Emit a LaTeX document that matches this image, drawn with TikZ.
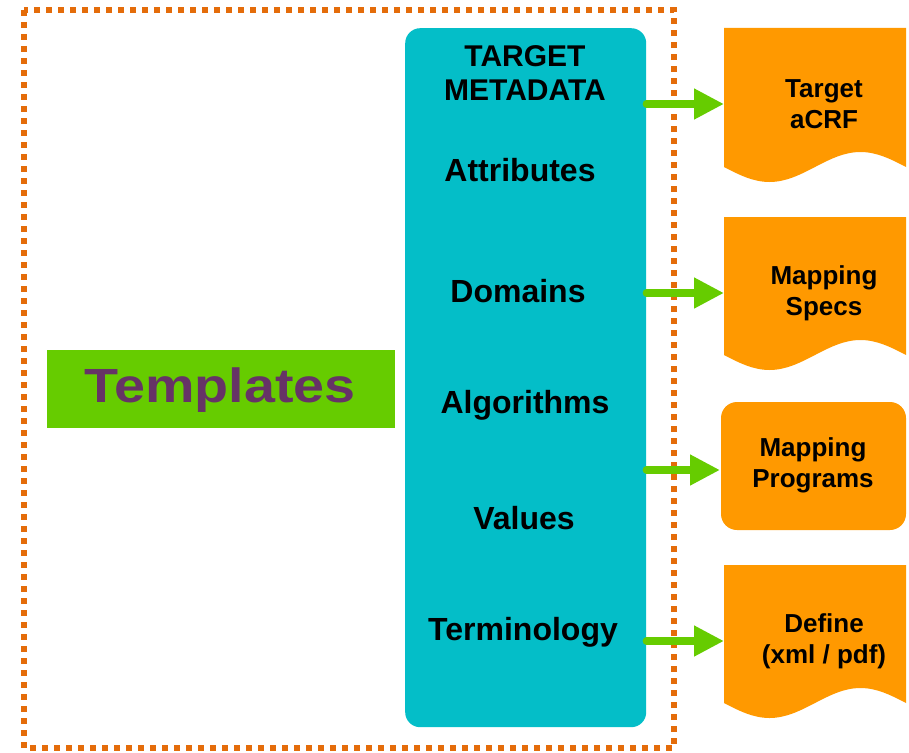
\documentclass[tikz,border=0pt]{standalone}
\usepackage{fontspec}
\usepackage{graphicx}
\setmainfont{Liberation Sans}
\usetikzlibrary{arrows.meta}
\definecolor{frameorange}{HTML}{E46C0A}
\definecolor{teal}{HTML}{04BEC8}
\definecolor{docorange}{HTML}{FF9900}
\definecolor{leaf}{HTML}{66CC00}
\definecolor{plum}{HTML}{663366}
\tikzset{
  framedots/.style={draw=frameorange, line width=6pt, dash pattern=on 6pt off 6pt},
  metabox/.style={fill=teal, draw=none, rounded corners=15pt, anchor=north west, inner sep=0pt},
  metalabel/.style={font=\bfseries\fontsize{32}{34}\selectfont, text=black, align=center, inner sep=0pt},
  doclabel/.style={font=\bfseries\fontsize{26}{31}\selectfont, text=black, align=center, inner sep=0pt},
  docfill/.style={fill=docorange, draw=none},
  greenarrow/.style={draw=leaf, line width=7.5pt, line cap=round, -{Triangle[length=30pt,width=29pt]}},
}
\begin{document}
\begin{tikzpicture}[x=1pt,y=-1pt]
\useasboundingbox (0,0) rectangle (909,752);
% dotted frame
\draw[framedots] (24,10) rectangle (674,748);
% templates box
\node[fill=leaf, minimum width=348pt, minimum height=78pt, inner sep=0pt, anchor=north west] (tplbox) at (47,350) {};
\node[font=\bfseries\fontsize{48}{56}\selectfont, text=plum, inner sep=0pt] (tpl) at (220,390) {\scalebox{1.16}[1]{Templates}};
% metadata box
\node[metabox, minimum width=241pt, minimum height=699pt] (meta) at (405,28) {};
\node[metalabel] (target) at (525,73) {\fontsize{30}{34}\selectfont TARGET\\\fontsize{30}{34}\selectfont METADATA};
\node[metalabel] (attr) at (520,170) {Attributes};
\node[metalabel] (dom) at (518,291) {Domains};
\node[metalabel] (algo) at (525,405) {Algorithms};
\node[metalabel] (vals) at (524,518) {Values};
\node[metalabel] (term) at (523,632) {Terminology};
% documents
\fill[docfill] (724,167) -- (724,28) -- (906,28) -- (906,167) sin (860.5,152) cos (815,167) sin (769.5,182) cos (724,167) -- cycle;
\fill[docfill] (724,355) -- (724,217) -- (906,217) -- (906,355) sin (860.5,340) cos (815,355) sin (769.5,370) cos (724,355) -- cycle;
\fill[docfill] (724,703) -- (724,565) -- (906,565) -- (906,703) sin (860.5,688) cos (815,703) sin (769.5,718) cos (724,703) -- cycle;
\fill[docfill, rounded corners=16pt] (721,402) rectangle (906,530);
\node[doclabel] (acrf) at (824,104) {Target\\aCRF};
\node[doclabel] (specs) at (824,293.5) {Mapping\\Specs};
\node[doclabel] (progs) at (813,465) {Mapping\\Programs};
\node[doclabel] (define) at (824,641) {Define\\(xml / pdf)};
\coordinate (acrfIn) at (724,104);
\coordinate (specsIn) at (724,293);
\coordinate (progsIn) at (720,470);
\coordinate (defineIn) at (724,641);
% arrows
\draw[greenarrow] (meta.east |- acrfIn) -- (acrfIn);
\draw[greenarrow] (meta.east |- specsIn) -- (specsIn);
\draw[greenarrow] (meta.east |- progsIn) -- (progsIn);
\draw[greenarrow] (meta.east |- defineIn) -- (defineIn);
\end{tikzpicture}
\end{document}
